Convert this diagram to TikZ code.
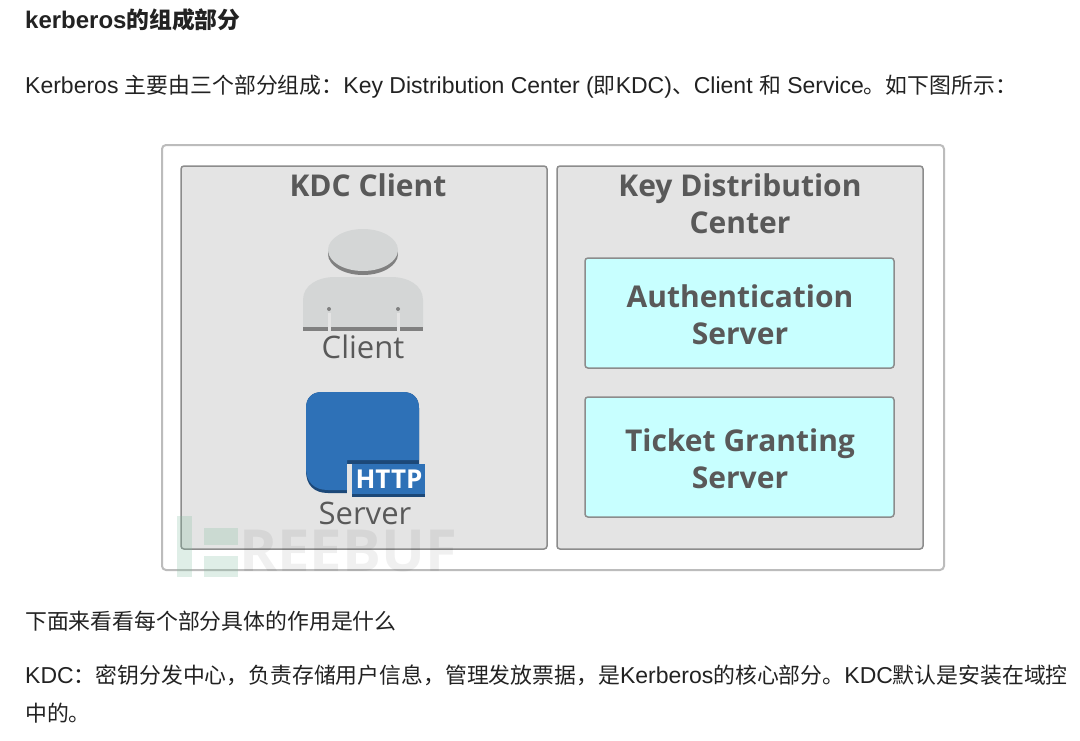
\documentclass[tikz,border=0pt]{standalone}
\usepackage{fontspec}
\usepackage{xcolor}
\setmainfont{Liberation Sans}
\newfontfamily\cjk[Scale=0.95]{Noto Sans CJK SC}
\newfontfamily\labelfont{Open Sans}
\newcommand{\cn}[1]{{\cjk #1}}
\definecolor{mtext}{RGB}{34,34,34}
\definecolor{mlabel}{RGB}{89,89,89}
\definecolor{mborder}{RGB}{188,188,188}
\definecolor{mpanel}{RGB}{228,228,228}
\definecolor{mpanelline}{RGB}{140,140,140}
\definecolor{mcyan}{RGB}{200,255,255}
\definecolor{mperson}{RGB}{212,214,214}
\definecolor{mshade}{RGB}{128,128,128}
\definecolor{mblue}{RGB}{46,113,183}
\definecolor{mdarkblue}{RGB}{28,72,120}
\definecolor{mmark}{RGB}{130,190,160}
\begin{document}
\begin{tikzpicture}[x=1pt, y=-1pt,
  para/.style={anchor=west, inner sep=0pt, text=mtext, font=\fontsize{23}{27}\selectfont},
  outer/.style={draw=mborder, fill=white, rounded corners=4pt, line width=2pt},
  panel/.style={draw=mpanelline, fill=mpanel, rounded corners=3pt, line width=1.5pt},
  srvbox/.style={draw=mpanelline, fill=mcyan, rounded corners=3pt, line width=1.5pt},
  heading/.style={anchor=base, inner sep=0pt, text=mlabel, font=\labelfont\bfseries\fontsize{30}{36}\selectfont},
  iconlabel/.style={anchor=base, inner sep=0pt, text=mlabel, font=\labelfont\fontsize{31}{37}\selectfont}]

  % page frame
  \useasboundingbox (0,0) rectangle (1080,740);
  \fill[white] (0,0) rectangle (1080,740);

  % paragraphs
  \node[para, font=\bfseries\fontsize{24}{28}\selectfont] (title) at (25,20) {kerberos\cn{\bfseries 的组成部分}};
  \node[para] (intro) at (25,87) {Kerberos \cn{主要由三个部分组成：}Key Distribution Center (\cn{即}KDC)\cn{、}Client \cn{和} Service\cn{。如下图所示：}};
  \node[para] (next) at (25,621) {\cn{下面来看看每个部分具体的作用是什么}};
  \node[para] (kdcone) at (25,675) {KDC\cn{：密钥分发中心，负责存储用户信息，管理发放票据，是}Kerberos\cn{的核心部分。}KDC\cn{默认是安装在域控}};
  \node[para] (kdctwo) at (25,713) {\cn{中的。}};

  % panels
  \draw[outer] (162,145) rectangle (944,570);
  \draw[panel] (181,166) rectangle (547,549);
  \draw[panel] (557,166) rectangle (923,549);
  \draw[srvbox] (585,258) rectangle (894,368);
  \draw[srvbox] (585,397) rectangle (894,517);

  \node[heading] (kdcclient) at (368,196) {KDC Client};
  \node[heading] (keydist) at (740,196) {Key Distribution};
  \node[heading] (center) at (740,233) {Center};
  \node[heading] (auth) at (740,307) {Authentication};
  \node[heading] (authsrv) at (740,344) {Server};
  \node[heading] (ticket) at (740,451) {Ticket Granting};
  \node[heading] (ticketsrv) at (740,488) {Server};

  % client icon
  \fill[mshade] (363,254) ellipse [x radius=35, y radius=21];
  \fill[mperson] (363,250) ellipse [x radius=35, y radius=21];
  \fill[mperson] (303,327) -- (303,300) .. controls (303,285) and (318,277) .. (335,277)
    -- (391,277) .. controls (408,277) and (423,285) .. (423,300) -- (423,327) -- cycle;
  \fill[mshade] (303,327) rectangle (423,331);
  \foreach \x in {329,398} {
    \fill[mpanel] (\x-1.5,313) rectangle (\x+1.5,331);
    \fill[mshade] (\x,309) circle (2);
  }
  \node[iconlabel] (client) at (363,358) {Client};

  % server icon
  \fill[mdarkblue] (306,408) .. controls (306,398) and (312,392) .. (322,392) -- (403,392)
    .. controls (413,392) and (419,398) .. (419,408) -- (419,464) -- (347,464) -- (347,493)
    -- (328,493) .. controls (314,493) and (306,485) .. (306,471) -- cycle;
  \fill[mblue] (306,408) .. controls (306,398) and (312,392) .. (322,392) -- (403,392)
    .. controls (413,392) and (419,398) .. (419,408) -- (419,460) -- (347,460) -- (347,490)
    -- (328,490) .. controls (314,490) and (306,482) .. (306,468) -- cycle;
  \fill[mpanel] (347,464) rectangle (352,497);
  \fill[mblue] (352,464) rectangle (425,494);
  \fill[mdarkblue] (352,494) rectangle (425,497);
  \node[inner sep=0pt, text=white, font=\labelfont\bfseries\fontsize{26}{31}\selectfont] (http) at (389,479) {HTTP};
  \node[iconlabel] (server) at (365,524) {Server};

  % watermark
  \fill[mmark, opacity=.25] (177,516) rectangle (192,577);
  \fill[mmark, opacity=.25] (204,528) rectangle (238,545);
  \fill[mmark, opacity=.25] (204,556) rectangle (238,577);
  \node[inner sep=0pt, text=black, opacity=.06, font=\labelfont\bfseries\fontsize{58}{64}\selectfont] (mark) at (348,551) {REEBUF};

\end{tikzpicture}
\end{document}
